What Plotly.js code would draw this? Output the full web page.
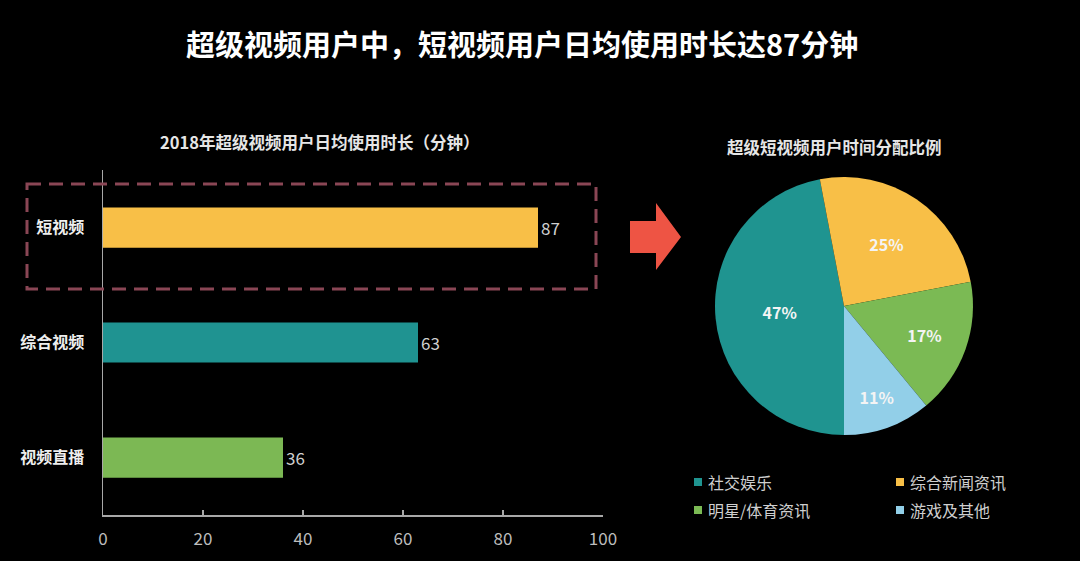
<!DOCTYPE html>
<html>
<head>
<meta charset="utf-8">
<script src="https://cdn.plot.ly/plotly-3.0.1.min.js"></script>
<style>html,body{margin:0;padding:0;background:#000;}</style>
</head>
<body>
<div id="chart" style="width:1080px;height:561px;"></div>
<script>
// ---- data ----
const barCategories = ['短视频', '综合视频', '视频直播'];
const barValues = [87, 63, 36];
const xTickVals = [0, 20, 40, 60, 80, 100];
const pieLabels = ['社交娱乐', '综合新闻资讯', '明星/体育资讯', '游戏及其他'];
const pieValues = [47, 25, 17, 11];
const mainTitle = '超级视频用户中，短视频用户日均使用时长达87分钟';
const barTitle = '2018年超级视频用户日均使用时长（分钟）';
const pieTitle = '超级短视频用户时间分配比例';

// ---- styles ----
const W = 1080, H = 561;
const FONT = '"Noto Sans CJK SC", "Noto Sans", sans-serif';
const barColors = ['#f8bf47', '#1f9391', '#7cb854'];
const pieColors = ['#1f9490', '#f8bf47', '#7bba54', '#92cfe8'];
const px = x => x / W;
const py = y => 1 - y / H;

const barTrace = {
  type: 'bar',
  orientation: 'h',
  y: barCategories,
  x: barValues,
  width: 0.35,
  marker: {color: barColors, line: {width: 0}},
  text: barValues.map(String),
  textposition: 'outside',
  textfont: {family: FONT, size: 17, color: '#cfcfcf'},
  cliponaxis: false,
  showlegend: false,
  hoverinfo: 'x+y',
  xaxis: 'x', yaxis: 'y'
};

const pieTrace = {
  type: 'pie',
  labels: pieLabels,
  values: pieValues,
  sort: false,
  direction: 'clockwise',
  rotation: 180,
  marker: {colors: pieColors, line: {width: 0}},
  texttemplate: '%{value}%',
  textposition: 'inside',
  insidetextorientation: 'horizontal',
  textfont: {family: FONT, size: 16, color: '#f4f4f4', weight: 'bold'},
  domain: {x: [px(715), px(973)], y: [py(435), py(177)]},
  showlegend: false
};

// legend drawn as shapes + annotations, 2 columns x 2 rows
const legCols = [698, 900], legRows = [482, 510];
const legendShapes = pieLabels.map((lab, i) => {
  const cx = legCols[i % 2], cy = legRows[Math.floor(i / 2)];
  return {type: 'rect', xref: 'paper', yref: 'paper',
    x0: px(cx - 4), x1: px(cx + 4), y0: py(cy + 4), y1: py(cy - 4),
    fillcolor: pieColors[i], line: {width: 0}};
});
const legendAnns = pieLabels.map((lab, i) => {
  const cx = legCols[i % 2], cy = legRows[Math.floor(i / 2)];
  return {text: lab, xref: 'paper', yref: 'paper', x: px(cx + 8), y: py(cy),
    xanchor: 'left', yanchor: 'middle', showarrow: false,
    font: {family: FONT, size: 16, color: '#cfcfcf'}};
});

const layout = {
  width: W, height: H, autosize: false,
  margin: {l: 0, r: 0, t: 0, b: 0, autoexpand: false},
  paper_bgcolor: '#000',
  plot_bgcolor: '#000',
  font: {family: FONT, color: '#dddddd'},
  showlegend: false,
  xaxis: {
    domain: [px(103), px(603)],
    range: [0, 100],
    tickvals: xTickVals,
    ticktext: xTickVals.map(String),
    showline: true, linecolor: '#a8a8a8', linewidth: 1.5,
    ticks: 'inside', ticklen: 5, tickcolor: '#a8a8a8', tickwidth: 1.5,
    showgrid: false, zeroline: false,
    tickfont: {family: FONT, size: 17, color: '#bdbdbd'},
    ticklabelstandoff: 8,
    fixedrange: true
  },
  yaxis: {
    domain: [py(515), py(170)],
    type: 'category',
    categoryorder: 'array', categoryarray: barCategories,
    range: [2.5, -0.5],
    showline: true, linecolor: '#a8a8a8', linewidth: 1.5,
    ticks: '', showgrid: false, zeroline: false,
    tickfont: {family: FONT, size: 16, color: '#eeeeee', weight: 'bold'},
    ticklabelstandoff: 14,
    fixedrange: true
  },
  annotations: [
    {text: mainTitle, xref: 'paper', yref: 'paper', x: px(522), y: py(43),
     xanchor: 'center', yanchor: 'middle', showarrow: false,
     font: {family: FONT, size: 29, color: '#ffffff', weight: 'bold'}},
    {text: barTitle, xref: 'paper', yref: 'paper', x: px(319), y: py(142),
     xanchor: 'center', yanchor: 'middle', showarrow: false,
     font: {family: FONT, size: 16.5, color: '#e6e6e6', weight: 'bold'}},
    {text: pieTitle, xref: 'paper', yref: 'paper', x: px(834), y: py(147),
     xanchor: 'center', yanchor: 'middle', showarrow: false,
     font: {family: FONT, size: 16.5, color: '#e6e6e6', weight: 'bold'}}
  ].concat(legendAnns),
  shapes: [
    // dashed highlight box
    {type: 'rect', xref: 'paper', yref: 'paper',
     x0: px(27), x1: px(596), y0: py(184), y1: py(289),
     line: {color: '#8a4655', width: 3, dash: '14px,8px'}, fillcolor: 'rgba(0,0,0,0)', layer: 'above'},
    // red arrow
    {type: 'path', xref: 'paper', yref: 'paper',
     path: 'M' + px(630) + ',' + py(221) + ' L' + px(656) + ',' + py(221) +
           ' L' + px(656) + ',' + py(203) + ' L' + px(681) + ',' + py(237) +
           ' L' + px(656) + ',' + py(270) + ' L' + px(656) + ',' + py(253) +
           ' L' + px(630) + ',' + py(253) + ' Z',
     fillcolor: '#ee5444', line: {width: 0}}
  ].concat(legendShapes)
};

Plotly.newPlot('chart', [barTrace, pieTrace], layout, {displayModeBar: false, staticPlot: true});
</script>
</body>
</html>
